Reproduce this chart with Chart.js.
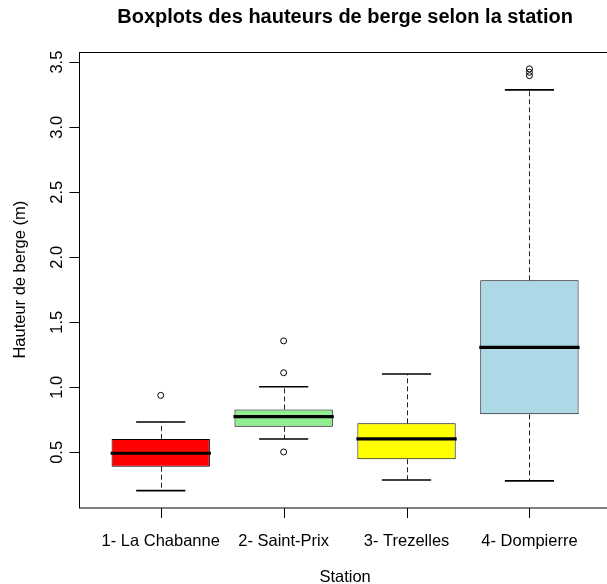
<!DOCTYPE html>
<html>
<head>
<meta charset="utf-8">
<script src="https://cdn.jsdelivr.net/npm/chart.js@4.4.1/dist/chart.umd.min.js"></script>
<style>
  html, body { margin: 0; padding: 0; background: #fff; overflow: hidden; }
  canvas { display: block; }
</style>
</head>
<body>
<canvas id="myChart" width="607" height="584"></canvas>
<script>
const ctx = document.getElementById('myChart');

// Stations (x = 1..4)
const stations = ['1- La Chabanne', '2- Saint-Prix', '3- Trezelles', '4- Dompierre'];
const positions = [1, 2, 3, 4];
const boxColors = ['#FF0000', '#90EE90', '#FFFF00', '#ADD8E6'];

// Five-number summaries (m)
const whiskerLow = [0.206, 0.603, 0.288, 0.281];
const q1 = [0.39, 0.697, 0.447, 0.792];
const medians = [0.493, 0.774, 0.603, 1.307];
const q3 = [0.603, 0.83, 0.723, 1.823];
const whiskerHigh = [0.733, 1.004, 1.102, 3.287];
const outliers = [[0.938], [0.503, 1.112, 1.357], [], [3.396, 3.422, 3.448]];

const yTicks = [0.5, 1.0, 1.5, 2.0, 2.5, 3.0, 3.5];
const yTickLabels = ['0.5', '1.0', '1.5', '2.0', '2.5', '3.0', '3.5'];

// R style limits (4% extension); the right part of the frame falls outside the picture
const xLimits = [0.335, 4.665];
const yLimits = [0.076, 3.578];
const pxPerStation = 122.9;

const FONT = '"Liberation Sans", Arial, Helvetica, sans-serif';

const boxData = positions.map((x, i) => ({ x: x, y: [q1[i], q3[i]] }));
const outlierData = [];
outliers.forEach((list, i) => {
    list.forEach((v) => outlierData.push({ x: positions[i], y: v }));
});

// draws the frame, axes, texts, whiskers and medians with the chart scales
const boxplotParts = {
    id: 'boxplotParts',
    beforeDatasetsDraw(chart) {
        const c = chart.ctx;
        const xs = chart.scales.x;
        const ys = chart.scales.y;
        const area = chart.chartArea;
        const left = area.left;
        const right = xs.getPixelForValue(xLimits[1]);
        const top = area.top;
        const bottom = area.bottom;
        c.save();
        c.strokeStyle = '#000';
        c.lineWidth = 1;
        // frame
        c.strokeRect(left + 0.5, top + 0.5, right - left, bottom - top);

        // y axis
        c.beginPath();
        c.moveTo(left + 0.5, ys.getPixelForValue(yTicks[0]));
        c.lineTo(left + 0.5, ys.getPixelForValue(yTicks[yTicks.length - 1]));
        yTicks.forEach((v) => {
            const y = Math.round(ys.getPixelForValue(v)) + 0.5;
            c.moveTo(left + 0.5, y);
            c.lineTo(left - 9.5, y);
        });
        // x axis
        positions.forEach((v) => {
            const x = Math.round(xs.getPixelForValue(v)) + 0.5;
            c.moveTo(x, bottom + 0.5);
            c.lineTo(x, bottom + 10.5);
        });
        c.stroke();

        c.fillStyle = '#000';
        c.font = '16.5px ' + FONT;
        c.textAlign = 'center';
        c.textBaseline = 'alphabetic';
        yTicks.forEach((v, i) => {
            c.save();
            c.translate(61.5, ys.getPixelForValue(v));
            c.rotate(-Math.PI / 2);
            c.fillText(yTickLabels[i], 0, 0);
            c.restore();
        });
        positions.forEach((v, i) => {
            c.fillText(stations[i], xs.getPixelForValue(v), 546);
        });

        // axis titles
        const midX = (left + right) / 2;
        c.fillText('Station', midX, 582);
        c.save();
        c.translate(25, (top + bottom) / 2);
        c.rotate(-Math.PI / 2);
        c.fillText('Hauteur de berge (m)', 0, 0);
        c.restore();

        // main title
        c.font = 'bold 20px ' + FONT;
        c.fillText('Boxplots des hauteurs de berge selon la station', midX, 23);

        // whiskers (dashed)
        c.setLineDash([5, 3]);
        c.strokeStyle = '#222';
        c.beginPath();
        positions.forEach((v, i) => {
            const x = Math.round(xs.getPixelForValue(v)) + 0.5;
            c.moveTo(x, ys.getPixelForValue(q3[i]));
            c.lineTo(x, ys.getPixelForValue(whiskerHigh[i]));
            c.moveTo(x, ys.getPixelForValue(q1[i]));
            c.lineTo(x, ys.getPixelForValue(whiskerLow[i]));
        });
        c.stroke();
        c.setLineDash([]);

        // staples
        c.strokeStyle = '#000';
        c.lineWidth = 1.6;
        c.beginPath();
        positions.forEach((v, i) => {
            const x0 = xs.getPixelForValue(v - 0.2);
            const x1 = xs.getPixelForValue(v + 0.2);
            [whiskerLow[i], whiskerHigh[i]].forEach((w) => {
                const y = ys.getPixelForValue(w);
                c.moveTo(x0, y);
                c.lineTo(x1, y);
            });
        });
        c.stroke();
        c.restore();
    },
    afterDatasetsDraw(chart) {
        const c = chart.ctx;
        const xs = chart.scales.x;
        const ys = chart.scales.y;
        c.save();
        c.strokeStyle = '#000';
        c.lineWidth = 3.2;
        c.beginPath();
        positions.forEach((v, i) => {
            const y = ys.getPixelForValue(medians[i]);
            c.moveTo(xs.getPixelForValue(v - 0.4) - 1, y);
            c.lineTo(xs.getPixelForValue(v + 0.4) + 1, y);
        });
        c.stroke();
        c.restore();
    },
};

new Chart(ctx, {
    type: 'bar',
    data: {
        datasets: [
            {
                label: 'Boxes',
                data: boxData,
                backgroundColor: boxColors,
                borderColor: '#000',
                borderWidth: 1,
                borderSkipped: false,
                categoryPercentage: 0.8,
                barPercentage: 1.0,
                order: 2,
            },
            {
                type: 'line',
                label: 'Outliers',
                data: outlierData,
                showLine: false,
                pointStyle: 'circle',
                pointRadius: 3,
                pointBorderWidth: 1,
                pointBorderColor: '#000',
                pointBackgroundColor: 'rgba(0,0,0,0)',
                order: 1,
            },
        ],
    },
    options: {
        responsive: false,
        animation: false,
        events: [],
        layout: {
            autoPadding: false,
            padding: { left: 79, top: 52, right: 0, bottom: 76.5 },
        },
        scales: {
            x: {
                type: 'linear',
                display: false,
                offset: false,
                min: xLimits[0],
                // keep R's spacing between stations; the frame runs past the right edge
                max: xLimits[0] + (607 - 79) / pxPerStation,
                afterBuildTicks: (scale) => {
                    scale.ticks = positions.map((v) => ({ value: v }));
                },
            },
            y: {
                type: 'linear',
                display: false,
                beginAtZero: false,
                min: yLimits[0],
                max: yLimits[1],
                afterBuildTicks: (scale) => {
                    scale.ticks = yTicks.map((v) => ({ value: v }));
                },
            },
        },
        plugins: {
            legend: { display: false },
            title: { display: false },
            tooltip: { enabled: false },
        },
    },
    plugins: [boxplotParts],
});
</script>
</body>
</html>
